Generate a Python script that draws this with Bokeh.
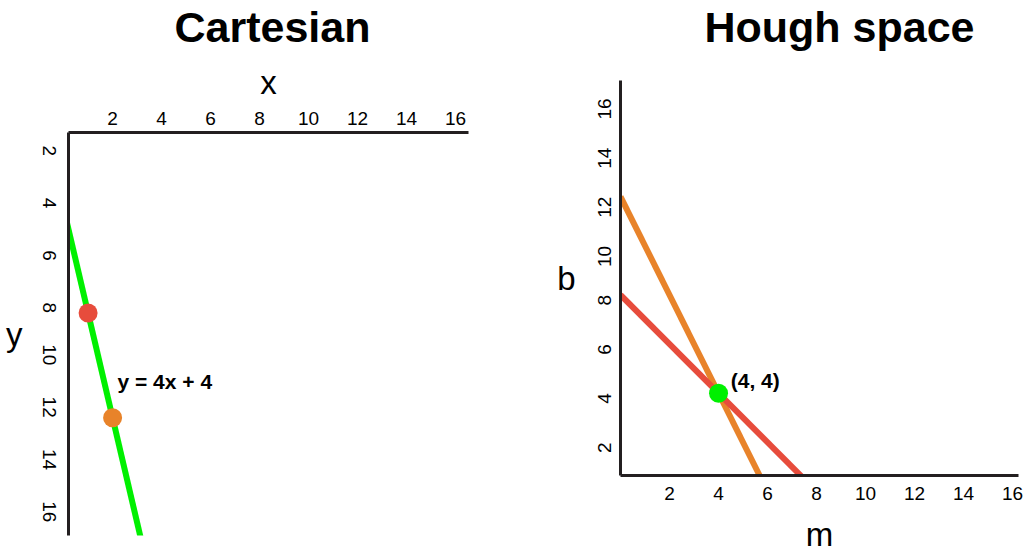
import math
from bokeh.plotting import figure
from bokeh.layouts import row
from bokeh.models import Range1d, FixedTicker, Label, Title
from bokeh.embed import file_html
from bokeh.resources import INLINE

# ---------------- data ----------------
tick_values = [2, 4, 6, 8, 10, 12, 14, 16]
point_x = [1, 2]            # Cartesian points
point_y = [8, 12]
point_colors = ["#e74c3c", "#e8832a"]
line_slope = 4              # y = 4x + 4
line_intercept = 4
line_x_extent = [0, 3.3]
line_label = "y = 4x + 4"
hough_label = "(4, 4)"
titles = ["Cartesian", "Hough space"]

# ---------------- style ----------------
AX = "#231f20"
FONT = "Liberation Sans"
GREEN = "#00f000"


def style(p):
    p.grid.visible = False
    p.outline_line_color = None
    p.background_fill_color = "white"
    p.border_fill_color = "white"
    try:
        p.frame_align = False
    except Exception:
        pass
    for ax in p.axis:
        ax.ticker = FixedTicker(ticks=tick_values)
        ax.axis_line_color = AX
        ax.axis_line_width = 3
        ax.major_tick_line_color = None
        ax.minor_tick_line_color = None
        ax.major_tick_out = 0
        ax.major_tick_in = 0
        ax.major_label_text_font = FONT
        ax.major_label_text_font_size = "19px"
        ax.major_label_text_color = "black"
        ax.axis_label_text_font = FONT
        ax.axis_label_text_font_size = "33px"
        ax.axis_label_text_font_style = "normal"
        ax.axis_label_text_color = "black"


def horizontal_label(ax):
    try:
        ax.axis_label_orientation = "horizontal"
    except Exception:
        pass


def add_title(p, text, offset, gap):
    # gap panel between the plot and the title (pushes the title to the top edge)
    p.add_layout(Title(text=" ", text_font_size="1px", standoff=gap), "above")
    p.add_layout(Title(text=text, text_font=FONT, text_font_size="43px",
                       text_font_style="bold", text_color="black",
                       align="left", offset=offset, standoff=0), "above")


H = 558

# ---------------- Cartesian ----------------
p1 = figure(width=500, height=H, title=None,
            x_range=Range1d(0.2, 16.53), y_range=Range1d(16.5, 1.1),
            x_axis_location="above", output_backend="svg", toolbar_location=None,
            min_border_left=68, min_border_right=32, min_border_top=130, min_border_bottom=H - 535)
style(p1)
p1.xaxis.axis_label = "x"
p1.xaxis.major_label_standoff = 8
p1.xaxis.axis_label_standoff = 8
p1.yaxis.axis_label = "y"
p1.yaxis.major_label_orientation = -math.pi / 2
p1.yaxis.major_label_standoff = 19
p1.yaxis.axis_label_standoff = 11
horizontal_label(p1.yaxis[0])
add_title(p1, titles[0], 106, 7)

line_y = [line_slope * x + line_intercept for x in line_x_extent]
p1.line(line_x_extent, line_y, line_color=GREEN, line_width=6)
p1.scatter(point_x, point_y, size=19, fill_color=point_colors, line_color=None)
p1.add_layout(Label(x=2.2, y=10.6, text=line_label, text_font=FONT,
                    text_font_size="21px", text_font_style="bold",
                    text_baseline="middle", text_align="left", text_color="black"))

# ---------------- Hough space ----------------
p2 = figure(width=524, height=H, title=None,
            x_range=Range1d(0, 16.24), y_range=Range1d(0.65, 16.73),
            output_backend="svg", toolbar_location=None,
            min_border_left=120, min_border_right=6, min_border_top=77, min_border_bottom=H - 475)
style(p2)
p2.xaxis.axis_label = "m"
p2.xaxis.major_label_standoff = 11
p2.xaxis.axis_label_standoff = 13
p2.yaxis.axis_label = "b"
p2.yaxis.major_label_orientation = math.pi / 2
p2.yaxis.major_label_standoff = 16
p2.yaxis.axis_label_standoff = 13
horizontal_label(p2.yaxis[0])
add_title(p2, titles[1], 84, 27)

# each Cartesian point (x, y) becomes the line b = -x*m + y in Hough space
for px, py, c in reversed(list(zip(point_x, point_y, point_colors))):
    ms = [0, py / px]
    bs = [-px * m + py for m in ms]
    p2.line(ms, bs, line_color=c, line_width=6)

p2.scatter([line_slope], [line_intercept], size=19, fill_color=GREEN, line_color=None)
p2.add_layout(Label(x=line_slope + 0.5, y=line_intercept + 0.5, text=hough_label,
                    text_font=FONT, text_font_size="21px", text_font_style="bold",
                    text_baseline="middle", text_align="left", text_color="black"))

layout = row(p1, p2)
open("out.html", "w").write(file_html(layout, INLINE))
